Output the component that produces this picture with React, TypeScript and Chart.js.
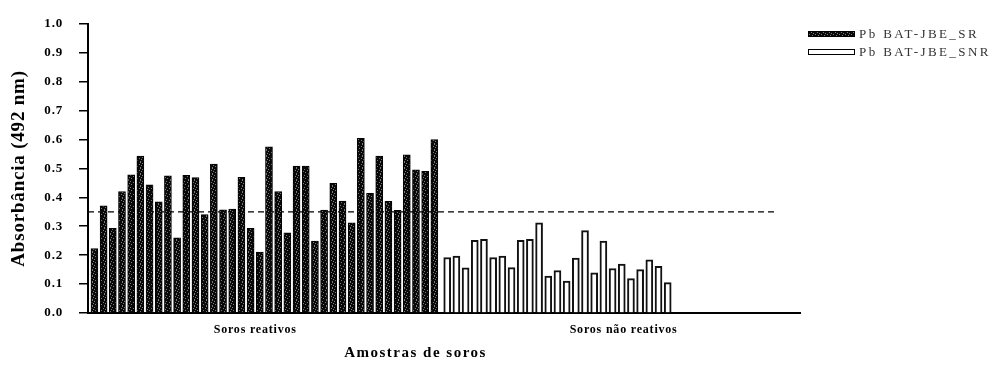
import { useEffect, useRef } from 'react';
import { Chart, registerables } from 'chart.js';

Chart.register(...registerables);

// Absorbance readings (492 nm) for each serum sample
const srValues = [
  0.223, 0.371, 0.293, 0.42, 0.478, 0.543, 0.443, 0.384, 0.474, 0.26,
  0.476, 0.468, 0.34, 0.515, 0.357, 0.359, 0.469, 0.293, 0.211, 0.575,
  0.42, 0.277, 0.508, 0.508, 0.249, 0.356, 0.448, 0.387, 0.312, 0.604,
  0.414, 0.543, 0.386, 0.355, 0.547, 0.495, 0.49, 0.6,
];
const snrValues = [
  0.192, 0.197, 0.156, 0.251, 0.255, 0.192, 0.197, 0.157, 0.251, 0.255,
  0.312, 0.128, 0.147, 0.11, 0.19, 0.285, 0.139, 0.249, 0.154, 0.169,
  0.119, 0.15, 0.184, 0.161, 0.105,
];
const cutoff = 0.35;

const seriesLabels = ['Pb BAT-JBE_SR', 'Pb BAT-JBE_SNR'];
const groupLabels = ['Soros reativos', 'Soros não reativos'];
const yTitle = 'Absorbância (492 nm)';
const xTitle = 'Amostras de soros';

// Sample slots along the x axis (one unit per bar)
const X_MAX = 77.5;
const SR_START = 0.7;
const SNR_START = 39.1;
const CUTOFF_END = 74.8;
const GROUP_TICKS = [18.2, 58.3];

const SERIF = '"Liberation Serif", "DejaVu Serif", serif';

function makeHatch(): CanvasPattern | string {
  const c = document.createElement('canvas');
  c.width = 6;
  c.height = 6;
  const g = c.getContext('2d');
  if (!g) return '#222';
  g.fillStyle = '#090909';
  g.fillRect(0, 0, 6, 6);
  g.fillStyle = '#7c7c7c';
  const dots = [
    [2, 0], [4, 1], [1, 2], [3, 3], [5, 4], [2, 5],
  ];
  dots.forEach(([x, y]) => g.fillRect(x, y, 1, 1));
  return g.createPattern(c, 'repeat') ?? '#222';
}

export default function App() {
  const ref = useRef<HTMLCanvasElement>(null);

  useEffect(() => {
    const canvas = ref.current;
    if (!canvas) return;
    const hatch = makeHatch();

    const textSpacing = {
      id: 'textSpacing',
      beforeDraw(chart: Chart) {
        (chart.ctx as any).letterSpacing = '0.8px';
      },
      beforeDatasetsDraw(chart: Chart) {
        (chart.ctx as any).letterSpacing = '0px';
      },
    };

    const sideLegend = {
      id: 'sideLegend',
      afterDraw(chart: Chart) {
        const { ctx, chartArea } = chart;
        ctx.save();
        // axis title under the group labels
        ctx.font = `bold 15px ${SERIF}`;
        (ctx as any).letterSpacing = '1.5px';
        ctx.fillStyle = '#000';
        ctx.textAlign = 'center';
        ctx.textBaseline = 'middle';
        const cx = chartArea.left + (chartArea.right - chartArea.left) * 0.46;
        ctx.fillText(xTitle, cx, chartArea.bottom + 40);

        // series legend at the right
        const x0 = chartArea.right + 8;
        const rows = [
          { label: seriesLabels[0], fill: hatch, y: 34 },
          { label: seriesLabels[1], fill: '#fff', y: 52 },
        ];
        ctx.font = `13px ${SERIF}`;
        (ctx as any).letterSpacing = '2.4px';
        ctx.textAlign = 'left';
        rows.forEach((r) => {
          ctx.fillStyle = r.fill as any;
          ctx.fillRect(x0, r.y - 3, 47, 6);
          ctx.strokeStyle = '#000';
          ctx.lineWidth = 1;
          ctx.strokeRect(x0 + 0.5, r.y - 2.5, 46, 5);
          ctx.fillStyle = '#333';
          ctx.fillText(r.label, x0 + 51, r.y + 1);
        });
        (ctx as any).letterSpacing = '0px';
        ctx.restore();
      },
    };

    const chart = new Chart(canvas, {
      type: 'bar',
      data: {
        datasets: [
          {
            type: 'bar',
            label: seriesLabels[0],
            data: srValues.map((v, i) => ({ x: SR_START + i, y: v })),
            backgroundColor: hatch as any,
            borderColor: '#000',
            borderWidth: 1,
            barThickness: 7,
            grouped: false,
          } as any,
          {
            type: 'bar',
            label: seriesLabels[1],
            data: snrValues.map((v, i) => ({ x: SNR_START + i, y: v })),
            backgroundColor: '#fff',
            borderColor: '#111',
            borderWidth: 2,
            barThickness: 7,
            grouped: false,
          } as any,
          {
            type: 'line',
            label: 'cutoff',
            data: [
              { x: 0, y: cutoff },
              { x: CUTOFF_END, y: cutoff },
            ],
            borderColor: '#000',
            borderWidth: 1.2,
            borderDash: [6, 4],
            pointRadius: 0,
          } as any,
        ],
      },
      options: {
        responsive: false,
        animation: false,
        layout: { padding: { top: 16, right: 204, left: 0, bottom: 0 } },
        plugins: {
          legend: { display: false },
          tooltip: { enabled: false },
        },
        scales: {
          x: {
            type: 'linear',
            min: 0,
            max: X_MAX,
            offset: false,
            grid: { display: false, drawTicks: false },
            border: { display: true, color: '#000', width: 2 },
            ticks: {
              autoSkip: false,
              maxRotation: 0,
              padding: 10,
              color: '#000',
              font: { family: SERIF, size: 12, weight: 'bold' },
              callback: (v: any) => {
                const i = GROUP_TICKS.indexOf(Number(v));
                return i >= 0 ? groupLabels[i] : '';
              },
            },
            afterBuildTicks: (s: any) => {
              s.ticks = GROUP_TICKS.map((value) => ({ value }));
            },
            afterFit: (s: any) => {
              s.height = 54;
            },
          },
          y: {
            min: 0,
            max: 1,
            ticks: {
              stepSize: 0.1,
              padding: 16,
              color: '#000',
              font: { family: SERIF, size: 13, weight: 'bold' },
              callback: (v: any) => Number(v).toFixed(1),
            },
            grid: {
              drawOnChartArea: false,
              drawTicks: true,
              tickLength: 9,
              color: '#000',
              lineWidth: 1.5,
            },
            border: { display: true, color: '#000', width: 2 },
            title: {
              display: true,
              text: yTitle,
              color: '#000',
              font: { family: SERIF, size: 19, weight: 'bold' },
              padding: { top: 8, bottom: 0 },
            },
            afterFit: (s: any) => {
              s.width = 88;
            },
          },
        },
      } as any,
      plugins: [textSpacing, sideLegend],
    });

    return () => chart.destroy();
  }, []);

  return (
    <div
      style={{
        position: 'fixed',
        left: 0,
        top: 0,
        width: 1004,
        height: 367,
        background: '#fff',
      }}
    >
      <canvas
        ref={ref}
        width={1004}
        height={367}
        style={{ display: 'block', width: 1004, height: 367 }}
      />
    </div>
  );
}
